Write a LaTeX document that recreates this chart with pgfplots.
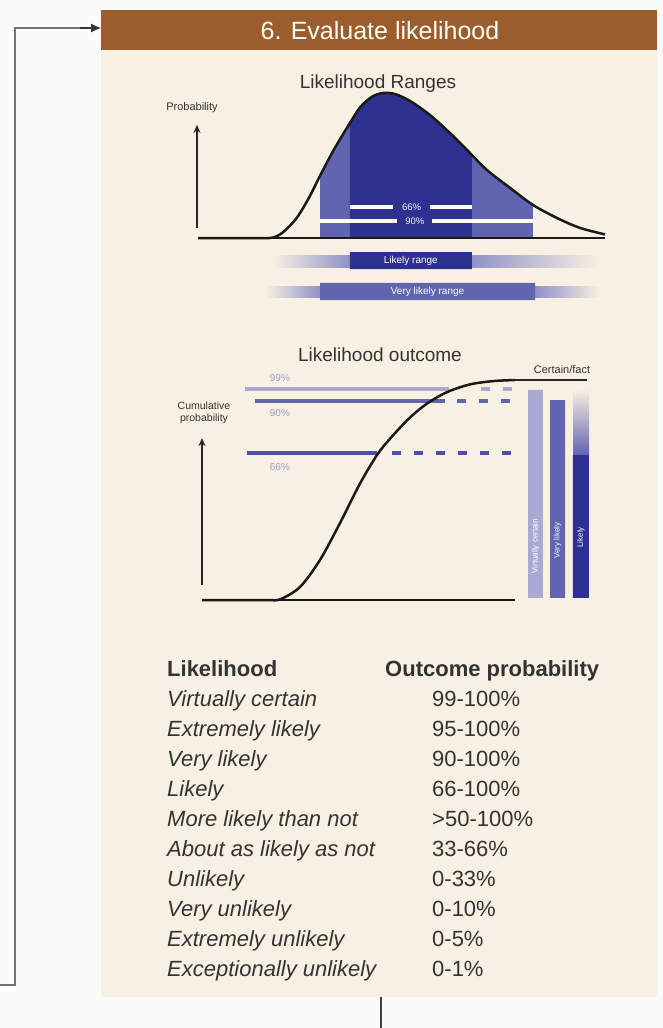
\documentclass[border=0pt]{standalone}
\usepackage{pgfplots}
\pgfplotsset{compat=1.18}
\usetikzlibrary{arrows.meta}
\usepackage{fontspec}
\setmainfont{Liberation Sans}
\definecolor{bgout}{HTML}{FBFBFA}
\definecolor{panel}{HTML}{F8F1E3}
\definecolor{hdr}{HTML}{9B5D2D}
\definecolor{dblue}{HTML}{2E3190}
\definecolor{mblue}{HTML}{6164AE}
\definecolor{lblue}{HTML}{A9AAD3}
\definecolor{fblue}{HTML}{8F91C6}
\definecolor{txt}{HTML}{333333}
\definecolor{pct}{HTML}{9C9EC6}
\newcommand\fs[1]{\fontsize{#1}{#1}\selectfont}
\begin{document}
\begin{tikzpicture}[x=1pt,y=1pt]
\path[use as bounding box] (0,0) rectangle (663,-1028);
\fill[bgout] (0,0) rectangle (663,-1028);
\fill[panel] (101,-10) rectangle (657,-997);
\fill[hdr] (101,-10) rectangle (657,-50);
\node[white!96!yellow,font=\fs{25}] at (380,-31) {6. Evaluate likelihood};
% connector
\draw[gray!90!black, line width=2.8pt] (0,-985) -- (15,-985) -- (15,-28) -- (90,-28);
\draw[black!80, line width=1.2pt, -{Latex[length=10pt,width=9pt]}] (80,-28) -- (101,-28);
\draw[black!75, line width=2pt] (381,-997) -- (381,-1028);
% titles
\node[txt,font=\fs{19}] at (378,-84) {Likelihood Ranges};
\node[txt,font=\fs{19}] at (380,-355) {Likelihood outcome};
\node[txt,font=\fs{11}] at (192,-108) {Probability};
\node[txt,font=\fs{10.5},align=center] at (204,-413) {Cumulative\\[1pt]probability};
\node[txt,font=\fs{11}] at (562,-370) {Certain/fact};

% range-bar gradients (decoration)
\fill[left color=panel, right color=fblue] (273,-255) rectangle (350,-267);
\fill[left color=fblue, right color=panel] (470,-255) rectangle (600,-267);
\fill[left color=panel, right color=fblue] (265,-286) rectangle (320,-297);
\fill[left color=fblue, right color=panel] (535,-286) rectangle (600,-297);
% bar 3 fading cap (decoration)
\fill[top color=panel, bottom color=mblue] (573,-389) rectangle (589,-455);

% ---------------- top plot: probability density ----------------
\begin{axis}[at={(198pt,-238pt)}, anchor=south west, scale only axis,
  width=407pt, height=145pt, xmin=0, xmax=10, ymin=0, ymax=1,
  enlargelimits=false, hide axis, clip=false]
% very likely (90%) area
\addplot[fill=mblue, draw=none] coordinates {
 (3.0,0) (3.0,0.43) (3.32,0.60) (3.66,0.76) (3.98,0.90) (4.28,0.975) (4.55,1.0)
 (4.84,0.993) (5.21,0.945) (5.70,0.848) (6.19,0.724) (6.61,0.607) (7.10,0.469)
 (7.67,0.345) (8.23,0.228) (8.23,0) (3.0,0)};
% likely (66%) area
\addplot[fill=dblue, draw=none] coordinates {
 (3.73,0) (3.73,0.79) (3.98,0.90) (4.28,0.975) (4.55,1.0) (4.84,0.993) (5.21,0.945)
 (5.70,0.848) (6.19,0.724) (6.61,0.607) (6.73,0.573) (6.73,0) (3.73,0)};
% white range lines
\addplot[white, line width=4pt] coordinates {(3.73,0.214) (6.73,0.214)};
\addplot[white, line width=4pt] coordinates {(3.0,0.117) (8.28,0.117)};
\node[fill=dblue, text=white!85!lblue, font=\fs{9.5}, inner xsep=9pt, inner ysep=2.5pt] at (axis cs:5.25,0.214) {66\%};
\node[fill=dblue, text=white!85!lblue, font=\fs{9.5}, inner xsep=8pt, inner ysep=2.5pt] at (axis cs:5.33,0.117) {90\%};
% curve and baseline
\addplot[black!90, line width=2.5pt, smooth] coordinates {
 (0,0) (1.5,0) (1.84,0.003) (2.09,0.04) (2.43,0.14) (2.75,0.29) (3.00,0.43)
 (3.32,0.60) (3.66,0.76) (3.98,0.90) (4.28,0.975) (4.55,1.0) (4.84,0.993)
 (5.21,0.945) (5.70,0.848) (6.19,0.724) (6.61,0.607) (7.10,0.469) (7.67,0.345)
 (8.23,0.228) (8.82,0.138) (9.39,0.069) (10,0.025)};
\addplot[black!90, line width=2.5pt] coordinates {(0,0) (10,0)};
\draw[black!85, line width=1.8pt, -{Stealth[length=8pt,width=7pt]}] (axis cs:-0.025,0.069) -- (axis cs:-0.025,0.78);
% range bars
\addplot[fill=dblue, draw=none] coordinates {(3.73,-0.097) (6.73,-0.097) (6.73,-0.214) (3.73,-0.214) (3.73,-0.097)};
\node[white, font=\fs{10}] at (axis cs:5.23,-0.155) {Likely range};
\addplot[fill=mblue, draw=none] coordinates {(3.0,-0.31) (8.28,-0.31) (8.28,-0.428) (3.0,-0.428) (3.0,-0.31)};
\node[white, font=\fs{10}] at (axis cs:5.64,-0.369) {Very likely range};
\end{axis}

% ---------------- bottom plot: cumulative probability ----------------
\begin{axis}[at={(202pt,-600pt)}, anchor=south west, scale only axis,
  width=313pt, height=220pt, xmin=0, xmax=10, ymin=0, ymax=1,
  enlargelimits=false, hide axis, clip=false]
% threshold lines
\addplot[lblue, line width=4pt] coordinates {(1.37,0.959) (7.9,0.959)};
\addplot[lblue, line width=4pt, dash pattern=on 9pt off 13pt] coordinates {(8.9,0.959) (10,0.959)};
\addplot[mblue, line width=4pt] coordinates {(1.69,0.905) (7.76,0.905)};
\addplot[mblue, line width=4pt, dash pattern=on 9pt off 13pt] coordinates {(8.15,0.905) (10,0.905)};
\addplot[dblue!85, line width=4pt] coordinates {(1.44,0.668) (5.59,0.668)};
\addplot[dblue!85, line width=4pt, dash pattern=on 9pt off 13pt] coordinates {(6.07,0.668) (10,0.668)};
\node[pct, font=\fs{10}] at (axis cs:2.49,1.009) {99\%};
\node[pct, font=\fs{10}] at (axis cs:2.49,0.85) {90\%};
\node[pct, font=\fs{10}] at (axis cs:2.49,0.605) {66\%};
% bars
\addplot[fill=lblue, draw=none] coordinates {(10.42,0.01) (10.89,0.01) (10.89,0.955) (10.42,0.955) (10.42,0.01)};
\addplot[fill=mblue, draw=none] coordinates {(11.12,0.01) (11.60,0.01) (11.60,0.909) (11.12,0.909) (11.12,0.01)};
\addplot[fill=dblue, draw=none] coordinates {(11.85,0.01) (12.36,0.01) (12.36,0.659) (11.85,0.659) (11.85,0.01)};
\node[white, font=\fs{8}, rotate=90] at (axis cs:10.655,0.245) {Virtually certain};
\node[white, font=\fs{8}, rotate=90] at (axis cs:11.36,0.27) {Very likely};
\node[white, font=\fs{8}, rotate=90] at (axis cs:12.105,0.285) {Likely};
% curve, certain line, baseline
\addplot[black!90, line width=2.5pt, smooth] coordinates {
 (0,0) (2.0,0) (2.49,0.003) (3.13,0.059) (3.77,0.182) (4.41,0.35) (5.05,0.53)
 (5.62,0.665) (6.10,0.748) (6.65,0.83) (7.19,0.893) (7.83,0.945) (8.56,0.98)
 (9.30,0.995) (10,1.0)};
\addplot[black!85, line width=1.5pt] coordinates {(9.9,1.0) (12.3,1.0)};
\addplot[black!90, line width=2.5pt] coordinates {(0,0) (10,0)};
\draw[black!85, line width=1.8pt, -{Stealth[length=8pt,width=7pt]}] (axis cs:0,0.068) -- (axis cs:0,0.736);
\end{axis}

% ---------------- table ----------------
\begin{scope}[every node/.style={anchor=base west, inner sep=0pt, text=txt}]
\node[font=\fs{22}\bfseries] at (167,-676) {Likelihood};
\node[font=\fs{22}\bfseries] at (385,-676) {Outcome probability};
\foreach \a/\b [count=\i from 0] in {Virtually certain/99-100\%, Extremely likely/95-100\%,
  Very likely/90-100\%, Likely/66-100\%, More likely than not/>50-100\%,
  About as likely as not/33-66\%, Unlikely/0-33\%, Very unlikely/0-10\%,
  Extremely unlikely/0-5\%, Exceptionally unlikely/0-1\%}{
  \node[font=\fs{22}\itshape] at (167,-706-30*\i) {\a};
  \node[font=\fs{22}] at (432,-706-30*\i) {\b};
}
\end{scope}
\end{tikzpicture}
\end{document}
